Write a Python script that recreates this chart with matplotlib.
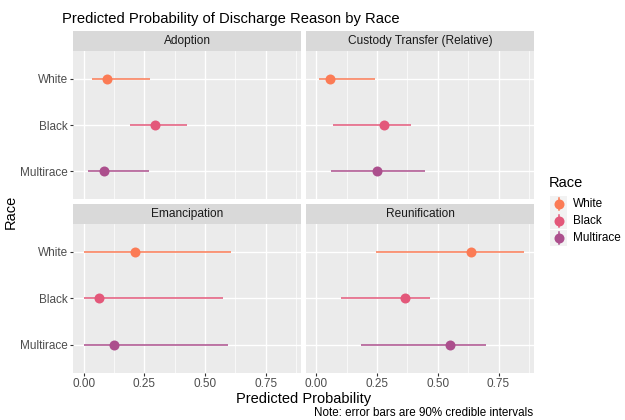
import numpy as np
import matplotlib
matplotlib.use("Agg")
import matplotlib.pyplot as plt
from matplotlib.patches import Rectangle
from matplotlib.lines import Line2D

plt.rcParams['font.family'] = ['Liberation Sans', 'DejaVu Sans']

reasons = ["Adoption", "Custody Transfer (Relative)", "Emancipation", "Reunification"]
races = ["White", "Black", "Multirace"]
race_colors = ["#FB7B55", "#E3587A", "#AC4F8D"]

# estimates per race, one value per reason (same order as reasons)
white_mid = [0.096, 0.056, 0.212, 0.636]
white_lo = [0.035, 0.012, 0.0, 0.245]
white_hi = [0.275, 0.243, 0.608, 0.853]
black_mid = [0.293, 0.279, 0.063, 0.365]
black_lo = [0.190, 0.067, 0.0, 0.103]
black_hi = [0.425, 0.388, 0.576, 0.469]
multi_mid = [0.083, 0.248, 0.125, 0.548]
multi_lo = [0.017, 0.062, 0.0, 0.183]
multi_hi = [0.268, 0.448, 0.593, 0.698]

mids = [white_mid, black_mid, multi_mid]
los = [white_lo, black_lo, multi_lo]
his = [white_hi, black_hi, multi_hi]

x_ticks = [0.0, 0.25, 0.5, 0.75]
x_ticklabels = ["0.00", "0.25", "0.50", "0.75"]

W, H = 625, 420
fig = plt.figure(figsize=(W / 100, H / 100), dpi=100)

def box(x0, y0, x1, y1):
    return [x0 / W, 1 - y1 / H, (x1 - x0) / W, (y1 - y0) / H]

cols = [(73.3, 301), (306, 534)]
rows = [(51, 199), (224, 372.7)]
strip_h = 20
pt_size = 7.2

ypos = [3, 2, 1]  # White on top

for k, reason in enumerate(reasons):
    r, c = divmod(k, 2)
    x0, x1 = cols[c]
    y0, y1 = rows[r]
    ax = fig.add_axes(box(x0, y0, x1, y1))
    ax.set_facecolor("#EBEBEB")
    for s in ax.spines.values():
        s.set_visible(False)
    ax.set_xlim(-0.043, 0.896)
    ax.set_ylim(0.4, 3.6)
    ax.set_xticks(x_ticks)
    ax.set_xticks([0.125, 0.375, 0.625, 0.875], minor=True)
    ax.set_yticks(ypos)
    ax.grid(True, which="major", color="white", lw=1.0)
    ax.grid(True, which="minor", axis="x", color="white", lw=0.5)
    ax.set_axisbelow(True)
    ax.tick_params(which="minor", length=0)
    ax.tick_params(which="major", length=2.4, width=0.8, color="#333333",
                   labelsize=8.5, labelcolor="#4D4D4D", pad=1.5)
    if c == 0:
        ax.set_yticklabels(races)
    else:
        ax.tick_params(axis="y", length=0, labelleft=False)
    if r == 1:
        ax.set_xticklabels(x_ticklabels)
    else:
        ax.tick_params(axis="x", length=0, labelbottom=False)

    for i in range(len(races)):
        ax.hlines(ypos[i], los[i][k], his[i][k], color=race_colors[i], lw=1.1, zorder=3)
        ax.plot(mids[i][k], ypos[i], "o", ms=pt_size, color=race_colors[i],
                mec="none", zorder=4)

    sax = fig.add_axes(box(x0, y0 - strip_h, x1, y0))
    sax.set_facecolor("#D9D9D9")
    sax.set_xticks([])
    sax.set_yticks([])
    for s in sax.spines.values():
        s.set_visible(False)
    sax.text(0.5, 0.5, reason, ha="center", va="center", fontsize=8.6,
             color="#1A1A1A", transform=sax.transAxes)

fig.text(61.7 / W, 1 - 22.7 / H, "Predicted Probability of Discharge Reason by Race",
         fontsize=10.6, ha="left", va="baseline")
fig.text(303.5 / W, 1 - 403 / H, "Predicted Probability", fontsize=10.5,
         ha="center", va="baseline")
fig.text(11 / W, 1 - 212 / H, "Race", fontsize=10.5, rotation=90,
         ha="center", va="center")
fig.text(533 / W, 1 - 416 / H, "Note: error bars are 90% credible intervals",
         fontsize=8.4, ha="right", va="baseline")

# legend, drawn by hand to get ggplot-style keys
fig.text(549 / W, 1 - 183 / H, "Race", fontsize=10.5, ha="left", va="center")
key_y = [204.3, 221.1, 237.9]
for i, race in enumerate(races):
    yc = key_y[i]
    fig.add_artist(Rectangle((550 / W, 1 - (yc + 8.4) / H), 17 / W, 16.8 / H,
                             transform=fig.transFigure, facecolor="#F2F2F2",
                             edgecolor="none"))
    fig.add_artist(Line2D([558.5 / W, 558.5 / W], [1 - (yc + 6) / H, 1 - (yc - 6) / H],
                          transform=fig.transFigure, color=race_colors[i], lw=1.1))
    fig.add_artist(Line2D([558.5 / W], [1 - yc / H], transform=fig.transFigure,
                          marker="o", ms=pt_size, color=race_colors[i], mec="none"))
    fig.text(573 / W, 1 - yc / H, race, fontsize=8.5, ha="left", va="center")

fig.savefig("out.png", dpi=100)
